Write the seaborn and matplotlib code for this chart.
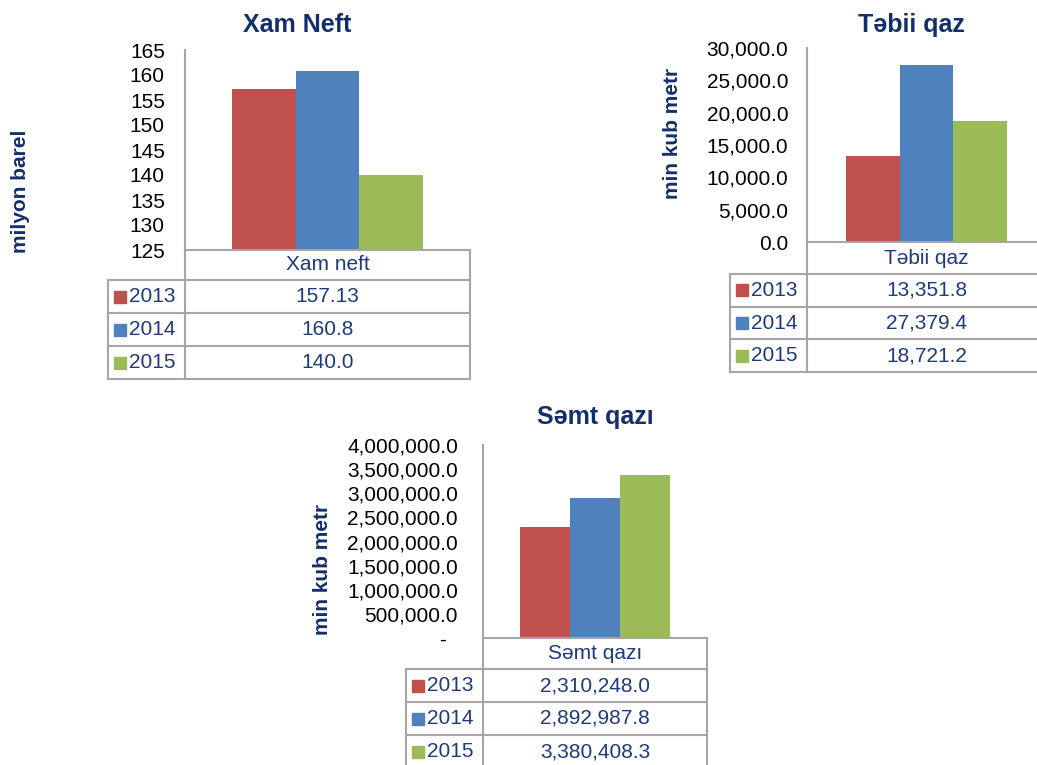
import matplotlib
matplotlib.use('Agg')
import matplotlib.pyplot as plt
import seaborn as sns
import pandas as pd
from matplotlib.ticker import FuncFormatter

# Data
years = ['2013', '2014', '2015']
colors = ['#C0504D', '#4F81BD', '#9BBB59']

neft_values = [157.13, 160.8, 140.0]
neft_table = ['157.13', '160.8', '140.0']

tebii_values = [13351.8, 27379.4, 18721.2]
tebii_table = ['13,351.8', '27,379.4', '18,721.2']

semt_values = [2310248.0, 2892987.8, 3380408.3]
semt_table = ['2,310,248.0', '2,892,987.8', '3,380,408.3']

sns.set_style('white')
plt.rcParams['font.family'] = ['Liberation Sans', 'DejaVu Sans']

navy = '#132F6B'
text_navy = '#1F3A7A'
line_c = '#A6A6A6'

W, H = 1037, 765
fig = plt.figure(figsize=(W / 100, H / 100), dpi=100)


def make_chart(box, head_bottom, row_h, lab_left, category, values, table_txt,
               ylim, yticks, fmt, pad):
    L, T, R, B = box
    ax = fig.add_axes([L / W, 1 - B / H, (R - L) / W, (B - T) / H])
    df = pd.DataFrame({'cat': [category] * 3, 'year': years, 'val': values})
    sns.barplot(data=df, x='cat', y='val', hue='year', palette=colors,
                width=0.67, saturation=1, linewidth=0, legend=False, ax=ax)
    ax.set_xlim(-0.5, 0.5)
    ax.set_ylim(*ylim)
    ax.set_yticks(yticks)
    ax.yaxis.set_major_formatter(FuncFormatter(fmt))
    ax.set_xticks([])
    ax.set_xlabel('')
    ax.set_ylabel('')
    ax.tick_params(axis='y', length=0, pad=pad, labelsize=15, labelcolor='black')
    for s in ['top', 'right']:
        ax.spines[s].set_visible(False)
    for s in ['left', 'bottom']:
        ax.spines[s].set_color(line_c)
        ax.spines[s].set_linewidth(1.5)

    # data table below the axes
    fx = lambda px: (px - L) / (R - L)
    fy = lambda py: (B - py) / (B - T)
    y_head = fy(head_bottom)
    y_end = fy(head_bottom + row_h * 3)
    xl = fx(lab_left)
    kw = dict(color=line_c, lw=1.5, transform=ax.transAxes, clip_on=False,
              solid_capstyle='projecting')
    ax.plot([0, 0], [0, y_end], **kw)
    ax.plot([1, 1], [0, y_end], **kw)
    ax.plot([xl, xl], [y_head, y_end], **kw)
    ax.plot([xl, 1], [y_head, y_head], **kw)
    for i in range(3):
        yb = fy(head_bottom + row_h * (i + 1))
        ax.plot([xl, 1], [yb, yb], **kw)

    ax.text(0.5, fy((B + head_bottom) / 2), category, ha='center', va='center',
            color=text_navy, fontsize=15, transform=ax.transAxes, clip_on=False)
    for i in range(3):
        yc = fy(head_bottom + row_h * (i + 0.5))
        ax.text(0.5, yc, table_txt[i], ha='center', va='center', color=text_navy,
                fontsize=15, transform=ax.transAxes, clip_on=False)
        ax.plot([fx(lab_left + 12)], [yc], marker='s', ms=8, color=colors[i],
                transform=ax.transAxes, clip_on=False)
        ax.text(fx(lab_left + 21), yc, years[i], ha='left', va='center',
                color=text_navy, fontsize=15, transform=ax.transAxes, clip_on=False)
    return ax


make_chart((185, 50, 470, 250), 280, 33, 108, 'Xam neft', neft_values, neft_table,
           (125, 165), list(range(125, 170, 5)), lambda v, p: f'{v:.0f}', 14.5)
make_chart((807, 48, 1046, 242), 274, 32.7, 730, 'Təbii qaz', tebii_values, tebii_table,
           (0, 30000), list(range(0, 30001, 5000)), lambda v, p: f'{v:,.1f}', 13.5)
make_chart((483, 445, 707, 638), 669, 33, 406, 'Səmt qazı', semt_values, semt_table,
           (0, 4000000), list(range(0, 4000001, 500000)),
           lambda v, p: '-  ' if v == 0 else f'{v:,.1f}', 18)

# titles and axis labels
fig.text(297 / W, 1 - 25 / H, 'Xam Neft', ha='center', va='center',
         fontsize=18, fontweight='bold', color=navy)
fig.text(911 / W, 1 - 25 / H, 'Təbii qaz', ha='center', va='center',
         fontsize=18, fontweight='bold', color=navy)
fig.text(595 / W, 1 - 417 / H, 'Səmt qazı', ha='center', va='center',
         fontsize=18, fontweight='bold', color=navy)
fig.text(21 / W, 1 - 191 / H, 'milyon barel', rotation=90, ha='center', va='center',
         fontsize=15, fontweight='bold', color=navy)
fig.text(672 / W, 1 - 133 / H, 'min kub metr', rotation=90, ha='center', va='center',
         fontsize=15, fontweight='bold', color=navy)
fig.text(323 / W, 1 - 569 / H, 'min kub metr', rotation=90, ha='center', va='center',
         fontsize=15, fontweight='bold', color=navy)

fig.savefig('out.png', dpi=100)
